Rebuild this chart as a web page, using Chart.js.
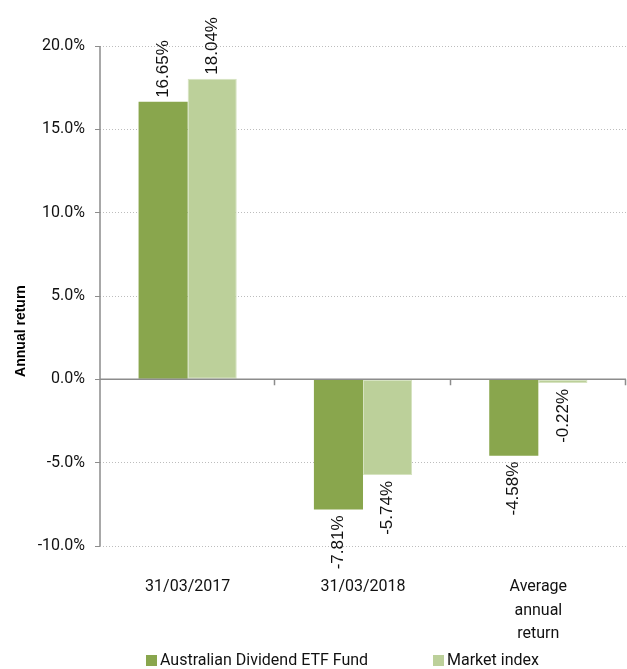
<!DOCTYPE html>
<html>
<head>
<meta charset="utf-8">
<script src="https://cdn.jsdelivr.net/npm/chart.js@4"></script>
<style>
  html, body { margin: 0; padding: 0; background: #fff; }
  #wrap { width: 627px; height: 669px; }
</style>
</head>
<body>
<div id="wrap"><canvas id="chartCanvas" width="627" height="669"></canvas></div>
<script>
const categories = ["31/03/2017", "31/03/2018", ["Average", "annual", "return"]];
const seriesNames = ["Australian Dividend ETF Fund", "Market index"];
const fundReturns = [16.65, -7.81, -4.58];
const indexReturns = [18.04, -5.74, -0.22];
const yTicks = [-10, -5, 0, 5, 10, 15, 20];
const seriesColors = ["#89a64d", "#bcd09a"];

const axisColor = "#8c8c8c";

const extras = {
  id: "extras",
  afterDatasetsDraw(chart) {
    const ctx = chart.ctx;
    const y = chart.scales.y;
    const area = chart.chartArea;
    const zero = y.getPixelForValue(0);
    ctx.save();
    // y axis line, zero line with category tick marks
    ctx.strokeStyle = axisColor;
    ctx.lineWidth = 1.5;
    ctx.beginPath();
    ctx.moveTo(area.left, area.top);
    ctx.lineTo(area.left, area.bottom);
    ctx.moveTo(area.left, zero);
    ctx.lineTo(area.right, zero);
    const step = (area.right - area.left) / categories.length;
    for (let i = 1; i <= categories.length; i++) {
      const px = Math.round(area.left + step * i) - 0.5;
      ctx.moveTo(px, zero);
      ctx.lineTo(px, zero + 6);
    }
    ctx.stroke();

    // value labels, rotated
    ctx.font = "17px 'Liberation Sans', Arial, sans-serif";
    ctx.fillStyle = "#111";
    ctx.textBaseline = "middle";
    chart.data.datasets.forEach((ds, di) => {
      chart.getDatasetMeta(di).data.forEach((bar, i) => {
        const v = ds.data[i];
        const txt = v.toFixed(2) + "%";
        ctx.save();
        ctx.translate(bar.x, v >= 0 ? bar.y - 4 : bar.y + 6);
        ctx.rotate(-Math.PI / 2);
        ctx.textAlign = v >= 0 ? "left" : "right";
        ctx.fillText(txt, 0, 0);
        ctx.restore();
      });
    });

    // y axis title
    ctx.save();
    ctx.font = "bold 14px 'Liberation Sans', Arial, sans-serif";
    ctx.fillStyle = "#000";
    ctx.textAlign = "center";
    ctx.textBaseline = "middle";
    ctx.translate(21, 331);
    ctx.rotate(-Math.PI / 2);
    ctx.fillText("Annual return", 0, 0);
    ctx.restore();

    // legend
    ctx.font = "16px Roboto, sans-serif";
    ctx.textAlign = "left";
    ctx.textBaseline = "middle";
    const legendX = [146, 433];
    seriesNames.forEach((name, i) => {
      ctx.fillStyle = seriesColors[i];
      ctx.fillRect(legendX[i], 655, 11, 11);
      ctx.fillStyle = "#111";
      ctx.fillText(name, legendX[i] + 14, 661);
    });
    ctx.restore();
  }
};

const ctx = document.getElementById("chartCanvas").getContext("2d");
const chart = new Chart(ctx, {
  type: "bar",
  data: {
    labels: categories,
    datasets: [
      { label: seriesNames[0], data: fundReturns, backgroundColor: seriesColors[0] },
      { label: seriesNames[1], data: indexReturns, backgroundColor: seriesColors[1],
        borderColor: "#d6e3c0", borderWidth: 1, borderSkipped: false }
    ]
  },
  options: {
    responsive: false,
    animation: false,
    layout: { padding: { top: 46, right: 1, left: 0, bottom: 0 } },
    datasets: { bar: { barPercentage: 1, categoryPercentage: 0.56 } },
    plugins: {
      legend: { display: false },
      tooltip: { enabled: false }
    },
    scales: {
      x: {
        grid: { display: false, drawTicks: false },
        border: { display: false },
        ticks: {
          color: "#111",
          padding: 29,
          maxRotation: 0,
          font: { family: "Roboto", size: 16, lineHeight: 1.48 }
        },
        afterFit(scale) { scale.height = 123; }
      },
      y: {
        min: -10,
        max: 20,
        afterBuildTicks(scale) { scale.ticks = yTicks.map(v => ({ value: v })); },
        grid: {
          color: c => (c.tick && c.tick.value === 0 ? "rgba(0,0,0,0)" : "#bdbdbd"),
          tickColor: axisColor,
          tickLength: 5,
          lineWidth: 1
        },
        border: { display: false, dash: [1, 2] },
        ticks: {
          color: "#111",
          padding: 10,
          font: { family: "Roboto", size: 16 },
          callback: v => v.toFixed(1) + "%"
        },
        afterFit(scale) { scale.width = 100; }
      }
    }
  },
  plugins: [extras]
});
</script>
</body>
</html>
